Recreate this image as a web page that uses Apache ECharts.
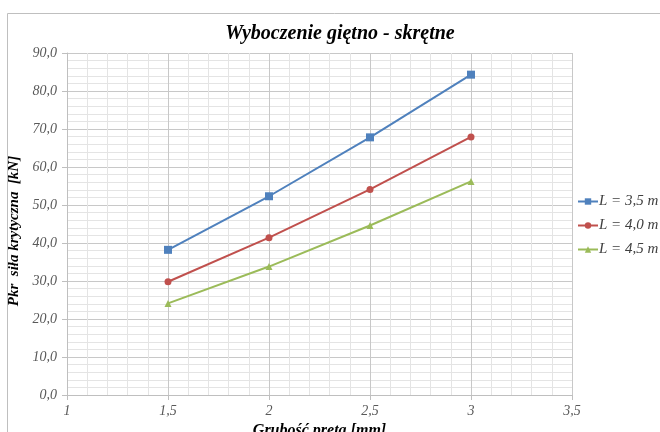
<!DOCTYPE html>
<html>
<head>
<meta charset="utf-8">
<script src="https://cdn.jsdelivr.net/npm/echarts@6/dist/echarts.min.js"></script>
<style>html,body{margin:0;padding:0;background:#fff}#c{width:660px;height:432px}</style>
</head>
<body>
<div id="c"></div>
<script>
const xValues = [1.5, 2, 2.5, 3];
const seriesNames = ['L = 3,5 m', 'L = 4,0 m', 'L = 4,5 m'];
const valsL35 = [38.2, 52.3, 67.8, 84.3];
const valsL40 = [29.8, 41.4, 54.1, 67.9];
const valsL45 = [24.1, 33.8, 44.6, 56.2];
const titleText = 'Wyboczenie giętno - skrętne';
const xAxisName = 'Grubość pręta [mm]';
const yAxisName = 'Pkr  siła krytyczna  [kN]';

const colors = ['#4F81BD', '#C0504D', '#9BBB59'];
const symbols = ['rect', 'circle', 'triangle'];
const allVals = [valsL35, valsL40, valsL45];
const serif = '"Liberation Serif", "DejaVu Serif", serif';

const chart = echarts.init(document.getElementById('c'));
chart.setOption({
  animation: false,
  backgroundColor: '#fff',
  graphic: [{
    type: 'rect', shape: {x: 7.5, y: 13.5, width: 700, height: 500},
    style: {fill: 'none', stroke: '#bfbfbf', lineWidth: 1}, silent: true, z: -1
  }],
  title: {
    text: titleText, left: 335, textAlign: 'center', top: 19,
    textStyle: {fontFamily: serif, fontStyle: 'italic', fontWeight: 'bold', fontSize: 20, color: '#000'}
  },
  legend: {
    orient: 'vertical', left: 572, top: 189, itemGap: 9,
    itemWidth: 20, itemHeight: 8,
    data: seriesNames,
    textStyle: {fontFamily: serif, fontStyle: 'italic', fontSize: 15, color: '#404040', padding: [0, 0, 0, -4]}
  },
  grid: {left: 67, right: 88, top: 53, bottom: 37, containLabel: false, outerBoundsMode: 'none'},
  xAxis: {
    type: 'value', min: 1, max: 3.5, interval: 0.5,
    name: xAxisName, nameLocation: 'middle', nameGap: 23,
    nameTextStyle: {fontFamily: serif, fontStyle: 'italic', fontWeight: 'bold', fontSize: 16, color: '#000'},
    axisLine: {show: true, lineStyle: {color: '#bfbfbf'}},
    axisTick: {show: true, length: 5, lineStyle: {color: '#bfbfbf'}},
    axisLabel: {margin: 9, fontFamily: serif, fontStyle: 'italic', fontSize: 14, color: '#595959',
      formatter: v => String(v).replace('.', ',')},
    splitLine: {show: true, lineStyle: {color: '#c8c8c8'}},
    minorTick: {show: false, splitNumber: 5},
    minorSplitLine: {show: true, lineStyle: {color: '#e4e4e4'}}
  },
  yAxis: {
    type: 'value', min: 0, max: 90, interval: 10,
    name: yAxisName, nameLocation: 'middle', nameGap: 42,
    nameTextStyle: {fontFamily: serif, fontStyle: 'italic', fontWeight: 'bold', fontSize: 15, color: '#000', padding: [0, 0, 0, -14]},
    axisLine: {show: true, lineStyle: {color: '#bfbfbf'}},
    axisTick: {show: true, length: 5, lineStyle: {color: '#bfbfbf'}},
    axisLabel: {margin: 10, fontFamily: serif, fontStyle: 'italic', fontSize: 14, color: '#595959',
      formatter: v => v.toFixed(1).replace('.', ',')},
    splitLine: {show: true, lineStyle: {color: '#c8c8c8'}},
    minorTick: {show: false, splitNumber: 5},
    minorSplitLine: {show: true, lineStyle: {color: '#e4e4e4'}}
  },
  series: seriesNames.map((n, i) => ({
    name: n, type: 'line',
    data: xValues.map((x, j) => [x, allVals[i][j]]),
    symbol: symbols[i], symbolSize: i === 0 ? 8 : 7,
    showAllSymbol: true,
    lineStyle: {color: colors[i], width: 2},
    itemStyle: {color: colors[i]}
  }))
});
</script>
</body>
</html>
